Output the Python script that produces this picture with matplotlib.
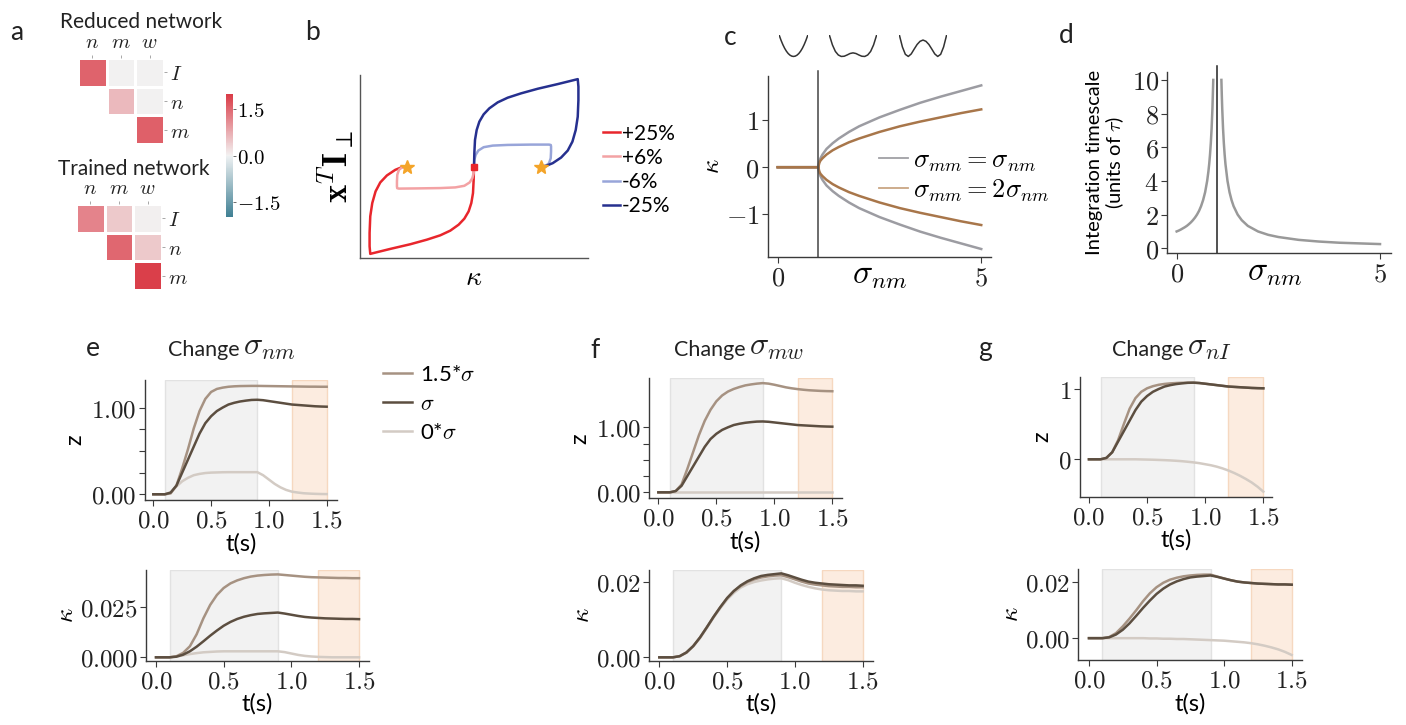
import numpy as np
import matplotlib
matplotlib.use('Agg')
import matplotlib.pyplot as plt
import seaborn as sns
from matplotlib.ticker import FixedLocator, FixedFormatter
from matplotlib.lines import Line2D

# ---------------- data ----------------
# panel a : connectivity statistics
net_cols = ['n', 'm', 'w']
net_rows = ['I', 'n', 'm']
reduced_net = [[1.55, 0.0, 0.0], [np.nan, 0.62, 0.0], [np.nan, np.nan, 1.58]]
trained_net = [[1.2, 0.45, 0.02], [np.nan, 1.5, 0.45], [np.nan, np.nan, 1.95]]
cbar_ticks = [-1.5, 0.0, 1.5]

# panel b : trajectories
b_labels = ['+25%', '+6%', '-6%', '-25%']
b_kappa_p25 = [0, -0.005, -0.015, -0.04, -0.08, -0.144, -0.229, -0.353, -0.502, -0.701, -0.950, -1.249,
               -1.547, -1.557, -1.557, -1.547, -1.517, -1.468, -1.398, -1.299, -1.174, -1.075, -1.0]
b_y_p25 = [0, -0.199, -0.398, -0.547, -0.672, -0.781, -0.871, -0.960, -1.030, -1.095, -1.164, -1.234,
           -1.308, -1.194, -0.995, -0.746, -0.547, -0.373, -0.239, -0.134, -0.050, -0.010, 0.0]
b_kappa_p6 = [0, -0.005, -0.025, -0.065, -0.144, -0.279, -0.502, -0.851, -1.120, -1.145, -1.149, -1.149,
              -1.144, -1.119, -1.070, -1.0]
b_y_p6 = [0, -0.1, -0.174, -0.239, -0.289, -0.313, -0.323, -0.328, -0.331, -0.325, -0.300, -0.224,
          -0.124, -0.05, -0.01, 0]
b_kappa_m6 = [0, 0.005, 0.025, 0.065, 0.144, 0.279, 0.502, 0.851, 1.120, 1.145, 1.149, 1.149,
              1.144, 1.119, 1.070, 1.0]
b_y_m6 = [0, 0.1, 0.174, 0.239, 0.289, 0.313, 0.323, 0.328, 0.328, 0.322, 0.300, 0.224,
          0.124, 0.05, 0.01, 0]
b_kappa_m25 = [0, 0.005, 0.015, 0.04, 0.08, 0.144, 0.229, 0.353, 0.502, 0.701, 0.950, 1.249,
               1.547, 1.557, 1.557, 1.547, 1.517, 1.468, 1.398, 1.299, 1.174, 1.075, 1.0]
b_y_m25 = [0, 0.199, 0.398, 0.547, 0.672, 0.781, 0.871, 0.960, 1.030, 1.095, 1.164, 1.234,
           1.308, 1.194, 0.995, 0.746, 0.547, 0.373, 0.239, 0.134, 0.050, 0.010, 0.0]
b_fixed_kappa = [-1.0, 1.0]
b_fixed_y = [0.0, 0.0]

# panel c : fixed points vs sigma_nm
c_sigma = [0, 0.5, 1.0, 1.02, 1.05, 1.1, 1.2, 1.35, 1.5, 1.75, 2.0, 2.5, 3.0, 3.5, 4.0, 4.5, 5.0]
c_gray_up = [0, 0, 0, 0.12, 0.19, 0.27, 0.39, 0.51, 0.61, 0.75, 0.87, 1.06, 1.22, 1.37, 1.50, 1.62, 1.74]
c_gray_lo = [0, 0, 0, -0.12, -0.19, -0.27, -0.39, -0.51, -0.61, -0.75, -0.87, -1.06, -1.22, -1.37, -1.50, -1.62, -1.74]
c_brown_up = [0, 0, 0, 0.09, 0.14, 0.19, 0.27, 0.36, 0.43, 0.53, 0.61, 0.75, 0.87, 0.97, 1.06, 1.15, 1.23]
c_brown_lo = [0, 0, 0, -0.09, -0.14, -0.19, -0.27, -0.36, -0.43, -0.53, -0.61, -0.75, -0.87, -0.97, -1.06, -1.15, -1.23]
c_labels = [r'$\sigma_{mm}=\sigma_{nm}$', r'$\sigma_{mm}=2\sigma_{nm}$']
bifurcation = 1.0
well_x = np.linspace(-1, 1, 17)
well_single = [1.0, .766, .5625, .39, .25, .14, .0625, .0156, 0, .0156, .0625, .14, .25, .39, .5625, .766, 1.0]
well_shallow = [1.0, .55, .24, .07, 0, .01, .07, .14, .17, .14, .07, .01, 0, .07, .24, .55, 1.0]
well_deep = [1.0, .45, .10, 0, .12, .35, .57, .72, .78, .72, .57, .35, .12, 0, .10, .45, 1.0]

# panel d : integration timescale
d_sigma_left = [0, .05, .1, .15, .2, .25, .3, .35, .4, .45, .5, .55, .6, .65, .7, .75, .78, .8, .82, .84,
                .86, .88, .9]
d_tau_left = [1, 1.05, 1.11, 1.18, 1.25, 1.33, 1.43, 1.54, 1.67, 1.82, 2, 2.22, 2.5, 2.86, 3.33, 4, 4.55,
              5, 5.56, 6.25, 7.14, 8.33, 10]
d_sigma_right = [1.1, 1.11, 1.12, 1.14, 1.16, 1.18, 1.2, 1.25, 1.3, 1.35, 1.4, 1.5, 1.6, 1.75, 2, 2.25,
                 2.5, 3, 3.5, 4, 4.5, 5]
d_tau_right = [10, 9.09, 8.33, 7.14, 6.25, 5.56, 5, 4, 3.33, 2.86, 2.5, 2, 1.67, 1.33, 1, .8, .67, .5,
               .4, .33, .29, .25]

# panels e-g : time courses
t_s = np.linspace(0, 1.5, 31)
stim_span = (0.1, 0.9)
resp_span = (1.2, 1.5)
ts_labels = ['1.5*$\\sigma$', '$\\sigma$', '0*$\\sigma$']

z_sigma = [0, 0, 0, .02, .10, .25, .40, .55, .70, .82, .90, .96, 1.00, 1.035, 1.055, 1.07, 1.08, 1.088, 1.09,
           1.085, 1.075, 1.065, 1.055, 1.045, 1.035, 1.03, 1.025, 1.02, 1.015, 1.012, 1.01]
k_sigma = [0, 0, 0, .0003, .0013, .0030, .0053, .0080, .0108, .0134, .0158, .0177, .0192, .0203, .0211, .0217,
           .0220, .0222, .0224, .0219, .0213, .0207, .0202, .0199, .0197, .0195, .0194, .0193, .0192, .0192, .0191]

e_z_15 = [0, 0, 0, .01, .10, .30, .52, .76, .96, 1.10, 1.18, 1.215, 1.23, 1.24, 1.245, 1.248, 1.249, 1.25, 1.25,
          1.249, 1.248, 1.247, 1.246, 1.245, 1.244, 1.243, 1.242, 1.241, 1.241, 1.240, 1.240]
e_z_0 = [0, 0, 0, .02, .09, .15, .19, .22, .235, .245, .25, .252, .254, .255, .255, .255, .255, .255, .255,
         .22, .17, .12, .08, .05, .03, .02, .012, .008, .005, .003, .002]
e_k_15 = [0, 0, 0, .0005, .0022, .0055, .0115, .0195, .0262, .0312, .0347, .037, .0385, .0396, .0404, .0409,
          .0412, .0414, .0415, .0412, .0409, .0406, .0403, .0401, .04, .0399, .0398, .0397, .0397, .0396, .0396]
e_k_0 = [0, 0, 0, .0004, .001, .0016, .0021, .0025, .0027, .0029, .003, .003, .003, .003, .003, .003, .003,
         .003, .003, .0026, .0019, .0012, .0007, .0004, .0002, .0001, 0, 0, 0, 0, 0]

f_z_15 = [0, 0, 0, .02, .12, .36, .62, .88, 1.10, 1.27, 1.40, 1.49, 1.55, 1.59, 1.62, 1.645, 1.66, 1.672, 1.68,
          1.672, 1.655, 1.635, 1.615, 1.60, 1.588, 1.578, 1.57, 1.565, 1.56, 1.557, 1.555]
f_z_0 = [0, 0, 0, 0, 0, 0, 0, 0, 0, 0, 0, 0, 0, 0, 0, 0, 0, 0, 0, 0, 0, 0, 0, 0, 0, 0, 0, 0, 0, 0, 0]
f_k_15 = [0, 0, 0, .0003, .0013, .003, .0053, .008, .0108, .0134, .0158, .0177, .019, .0201, .0208, .0213,
          .0216, .0218, .0219, .0214, .0208, .0202, .0197, .0194, .0192, .019, .0189, .0188, .0188, .0187, .0187]
f_k_0 = [0, 0, 0, .0003, .0012, .0029, .0051, .0078, .0106, .0131, .0154, .0172, .0186, .0195, .0201, .0205,
         .0208, .021, .0211, .0206, .0199, .0193, .0188, .0184, .0181, .0179, .0178, .0177, .0177, .0176, .0176]

g_z_15 = [0, 0, 0, .02, .10, .27, .50, .72, .87, .96, 1.01, 1.04, 1.06, 1.072, 1.08, 1.085, 1.088, 1.09, 1.09,
          1.085, 1.075, 1.065, 1.055, 1.045, 1.035, 1.03, 1.025, 1.02, 1.015, 1.012, 1.01]
g_z_0 = [0, 0, 0, 0, 0, 0, 0, 0, 0, -.002, -.004, -.006, -.009, -.012, -.016, -.021, -.027, -.035, -.044,
         -.055, -.07, -.085, -.105, -.13, -.16, -.195, -.235, -.28, -.33, -.39, -.46]
g_k_15 = [0, 0, 0, .0004, .0018, .0042, .007, .01, .0132, .016, .0182, .0198, .0209, .0216, .0221, .0224,
          .0226, .0227, .0227, .022, .0213, .0207, .0202, .0199, .0197, .0195, .0194, .0193, .0192, .0192, .0191]
g_k_0 = [0, 0, 0, 0, 0, 0, 0, 0, 0, -.0001, -.0001, -.0002, -.0002, -.0003, -.0003, -.0004, -.0005, -.0006,
         -.0007, -.0008, -.0009, -.0011, -.0013, -.0015, -.0018, -.0022, -.0027, -.0033, -.004, -.0049, -.006]

# ---------------- style ----------------
W, H = 1406, 725
plt.rcParams['mathtext.fontset'] = 'cm'
plt.rcParams['font.family'] = ['Lato', 'DejaVu Sans']
SPINE = '#3a3a3a'
TXT = '#222222'
c15, c10, c00 = '#a69282', '#5c4e40', '#d3cbc4'

fig = plt.figure(figsize=(W / 100, H / 100), dpi=100)


def add_ax(x0, y0, x1, y1):
    return fig.add_axes([x0 / W, 1 - y1 / H, (x1 - x0) / W, (y1 - y0) / H])


def style_axes(ax, labelsize=18):
    for s in ['top', 'right']:
        ax.spines[s].set_visible(False)
    for s in ['left', 'bottom']:
        ax.spines[s].set_color(SPINE)
        ax.spines[s].set_linewidth(1.0)
    ax.tick_params(length=4, width=0.8, color=SPINE, labelsize=labelsize, pad=2, labelcolor=TXT)


def set_ticks(axis, locs, labels):
    axis.set_major_locator(FixedLocator(locs))
    axis.set_major_formatter(FixedFormatter(labels))


def plabel(x, y, s):
    fig.text(x / W, 1 - y / H, s, fontsize=19, color=TXT, ha='left', va='baseline')


# ---------------- panel a ----------------
cmap = sns.diverging_palette(220, 10, as_cmap=True)


def heat(ax, M):
    M = np.ma.masked_invalid(np.array(M, float))
    pc = ax.pcolormesh(np.arange(4), np.arange(4), M, cmap=cmap, vmin=-2, vmax=2,
                       edgecolors='white', linewidth=0.9)
    ax.set_xlim(0, 3)
    ax.set_ylim(3, 0)
    ax.xaxis.tick_top()
    ax.yaxis.tick_right()
    set_ticks(ax.xaxis, np.arange(3) + 0.5, ['$' + c + '$' for c in net_cols])
    set_ticks(ax.yaxis, np.arange(3) + 0.5, ['$' + r + '$' for r in net_rows])
    for s in ax.spines.values():
        s.set_visible(False)
    ax.tick_params(length=2, width=0.6, color='#999999', labelsize=15, pad=2, labelcolor=TXT)
    return pc


ax_red = add_ax(78, 58, 164, 144)
pc = heat(ax_red, reduced_net)
ax_tr = add_ax(76, 204, 162, 290)
heat(ax_tr, trained_net)
fig.text(141 / W, 1 - 22 / H, 'Reduced network', fontsize=15, color=TXT, ha='center', va='center')
fig.text(134 / W, 1 - 169 / H, 'Trained network', fontsize=15, color=TXT, ha='center', va='center')
cax = add_ax(226, 94, 233, 217)
cb = fig.colorbar(pc, cax=cax)
cb.outline.set_visible(False)
cb.set_ticks(cbar_ticks)
cb.set_ticklabels(['$' + '{:.1f}'.format(v) + '$' for v in cbar_ticks])
cb.ax.tick_params(length=2, width=0.6, labelsize=15, pad=1, color='#555555')
plabel(10, 40, 'a')

# ---------------- panel b ----------------
axb = add_ax(360, 75, 588, 258)
style_axes(axb)
axb.spines['left'].set_color('#555555')
axb.spines['bottom'].set_color('#555555')
axb.set_xticks([])
axb.set_yticks([])
b_cols = ['#e8262c', '#f3a2a4', '#98a5d9', '#26308f']
for kx, yy, col, lab in zip([b_kappa_p25, b_kappa_p6, b_kappa_m6, b_kappa_m25],
                            [b_y_p25, b_y_p6, b_y_m6, b_y_m25], b_cols, b_labels):
    axb.plot(kx, yy, color=col, lw=1.8, label=lab, solid_joinstyle='round')
axb.plot(b_fixed_kappa, b_fixed_y, linestyle='none', marker='*', ms=10, color='#f4a428', zorder=5)
axb.plot([0], [0], linestyle='none', marker='s', ms=5, color='#e8262c', zorder=5)
axb.set_xlim(-1.70, 1.70)
axb.set_ylim(-1.37, 1.37)
axb.set_xlabel(r'$\kappa$', fontsize=20, labelpad=4)
axb.set_ylabel(r'$\mathbf{x}^T\mathbf{I}_\perp$', fontsize=25, labelpad=2)
axb.legend(loc='upper left', bbox_to_anchor=(1.03, 0.78), frameon=False, fontsize=15,
           handlelength=0.8, handletextpad=0.1, labelspacing=0.2, borderaxespad=0)
plabel(305, 40, 'b')

# ---------------- panel c ----------------
axc = add_ax(767.7, 76, 991, 257)
style_axes(axc, 19)
axc.plot(c_sigma, c_gray_up, color='#9c9ca2', lw=1.8)
axc.plot(c_sigma, c_gray_lo, color='#9c9ca2', lw=1.8)
axc.plot(c_sigma, c_brown_up, color='#a8764a', lw=1.8)
axc.plot(c_sigma, c_brown_lo, color='#a8764a', lw=1.8)
axc.axvline(bifurcation, ymin=0, ymax=1.025, color='#444444', lw=1.1, clip_on=False)
axc.set_xlim(-0.246, 5.24)
axc.set_ylim(-1.91, 1.94)
set_ticks(axc.xaxis, [0, 5], ['$0$', '$5$'])
set_ticks(axc.yaxis, [-1, 0, 1], ['$-1$', '$0$', '$1$'])
axc.set_xlabel(r'$\sigma_{nm}$', fontsize=24)
axc.xaxis.set_label_coords(0.5, -0.02)
axc.set_ylabel(r'$\kappa$', fontsize=18, labelpad=2)
handles_c = [Line2D([], [], color='#a0a0a5', lw=1.3), Line2D([], [], color='#c9a684', lw=1.3)]
axc.legend(handles_c, c_labels, loc='center left', bbox_to_anchor=(0.45, 0.45), frameon=False,
           fontsize=19, handlelength=1.1, handletextpad=0.2, labelspacing=0.15, borderaxespad=0)
for (x0, x1), vals in zip([(779, 808), (829, 877), (899, 947)], [well_single, well_shallow, well_deep]):
    axw = add_ax(x0, 35, x1, 57.5)
    axw.plot(well_x, vals, color='#333333', lw=1.1)
    axw.set_xlim(-1.02, 1.02)
    axw.set_ylim(-0.05, 1.02)
    axw.axis('off')
plabel(724, 45, 'c')

# ---------------- panel d ----------------
axd = add_ax(1167.3, 72, 1391, 253)
style_axes(axd, 19)
axd.plot(d_sigma_left, d_tau_left, color='#999999', lw=1.8)
axd.plot(d_sigma_right, d_tau_right, color='#999999', lw=1.8)
axd.axvline(bifurcation, ymin=0, ymax=1.035, color='#222222', lw=1.1, clip_on=False)
axd.set_xlim(-0.23, 5.27)
axd.set_ylim(-0.28, 10.47)
set_ticks(axd.xaxis, [0, 5], ['$0$', '$5$'])
set_ticks(axd.yaxis, [0, 2, 4, 6, 8, 10], ['$%d$' % v for v in [0, 2, 4, 6, 8, 10]])
axd.set_xlabel(r'$\sigma_{nm}$', fontsize=24)
axd.xaxis.set_label_coords(0.48, -0.03)
axd.set_ylabel('Integration timescale\n(units of $\\tau$)', fontsize=14.5, labelpad=4, linespacing=1.05)
plabel(1059, 43, 'd')


# ---------------- panels e-g ----------------
def ts_panel(ax, z15, z10, z0, xlim, ylim, yt, ytl, ylab):
    style_axes(ax, 18)
    ax.axvspan(*stim_span, facecolor='#f2f2f2', edgecolor='#e2e2e2', lw=1.0, zorder=0)
    ax.axvspan(*resp_span, facecolor='#fcece0', edgecolor='#f6d8c0', lw=1.0, zorder=0)
    ax.plot(t_s, z0, color=c00, lw=1.8)
    ax.plot(t_s, z15, color=c15, lw=1.8)
    ax.plot(t_s, z10, color=c10, lw=1.8)
    ax.set_xlim(*xlim)
    ax.set_ylim(*ylim)
    set_ticks(ax.xaxis, [0, 0.5, 1.0, 1.5], ['$0.0$', '$0.5$', '$1.0$', '$1.5$'])
    set_ticks(ax.yaxis, yt, ytl)
    ax.set_xlabel('t(s)', fontsize=17, labelpad=1)
    if ylab == 'z':
        ax.set_ylabel('z', fontsize=17, labelpad=4)
    else:
        ax.set_ylabel(r'$\kappa$', fontsize=18, labelpad=2)


z_ticks = [0, 0.25, 0.5, 0.75, 1.0]
z_tl = ['$0.00$', '', '', '', '$1.00$']

ax_ez = add_ax(145, 380, 336.7, 500)
ts_panel(ax_ez, e_z_15, z_sigma, e_z_0, (-0.072, 1.587), (-0.066, 1.318), z_ticks, z_tl, 'z')
ax_ek = add_ax(146, 570, 369.3, 660.7)
ts_panel(ax_ek, e_k_15, k_sigma, e_k_0, (-0.074, 1.576), (-0.0017, 0.0437), [0, 0.025],
         ['$0.000$', '$0.025$'], 'k')
ax_fz = add_ax(649.3, 378.3, 841.7, 498.3)
ts_panel(ax_fz, f_z_15, z_sigma, f_z_0, (-0.078, 1.581), (-0.092, 1.754), z_ticks, z_tl, 'z')
ax_fk = add_ax(649.3, 570, 872.7, 660.7)
ts_panel(ax_fk, f_k_15, k_sigma, f_k_0, (-0.074, 1.574), (-0.0009, 0.0233), [0, 0.02],
         ['$0.00$', '$0.02$'], 'k')
ax_gz = add_ax(1080, 376.7, 1271.7, 496.7)
ts_panel(ax_gz, g_z_15, z_sigma, g_z_0, (-0.077, 1.572), (-0.532, 1.175), [0, 1], ['$0$', '$1$'], 'z')
ax_gk = add_ax(1078.3, 569.3, 1301.7, 660)
ts_panel(ax_gk, g_k_15, k_sigma, g_k_0, (-0.079, 1.574), (-0.0078, 0.0246), [0, 0.02],
         ['$0.00$', '$0.02$'], 'k')

# titles
for xc, sub in [(240, 'nm'), (746, 'mw'), (1184, 'nI')]:
    fig.text(xc / W, 1 - 356 / H, 'Change', fontsize=15.5, color=TXT, ha='right', va='baseline')
    fig.text((xc + 3) / W, 1 - 355 / H, r'$\sigma_{' + sub + '}$', fontsize=23, color=TXT,
             ha='left', va='baseline')

# legend for time courses
handles_e = [Line2D([], [], color=c, lw=1.8) for c in [c15, c10, c00]]
fig.legend(handles_e, ts_labels, loc='upper left', bbox_to_anchor=(374 / W, 1 - 356 / H), frameon=False,
           fontsize=16, handlelength=1.3, handletextpad=0.35, labelspacing=0.4, borderaxespad=0)

plabel(86, 356, 'e')
plabel(590, 358, 'f')
plabel(978, 356, 'g')

fig.savefig('out.png', dpi=100, facecolor='white')
